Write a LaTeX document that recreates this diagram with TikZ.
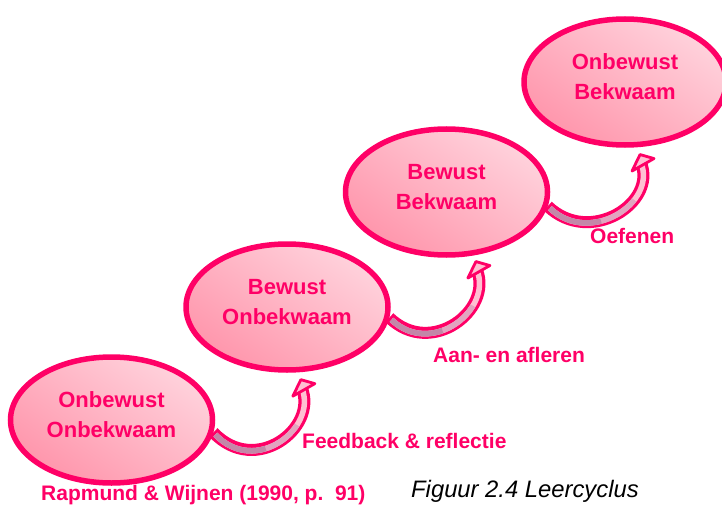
\documentclass[tikz,border=0pt]{standalone}
\usepackage{fontspec}
\setmainfont{Liberation Sans}
\usetikzlibrary{shapes.geometric, calc}
\definecolor{ink}{RGB}{255, 0, 102}
\definecolor{blushtop}{RGB}{255, 210, 220}
\definecolor{blushbot}{RGB}{255, 150, 172}
\definecolor{bandfill}{RGB}{195, 135, 168}
\definecolor{bandmid}{RGB}{225, 165, 192}
\definecolor{headfill}{RGB}{255, 192, 210}

\begin{document}
\begin{tikzpicture}[x=1pt, y=1pt,
    stage/.style  = {ellipse, draw=ink, line width=5.5pt, minimum width=202pt, minimum height=126pt,
                     inner sep=0pt, text depth=10pt, align=center,
                     top color=blushtop, bottom color=blushbot, shading angle=-35,
                     font=\fontsize{22}{30}\selectfont\bfseries\color{ink}},
    lbl/.style    = {font=\fontsize{21}{25}\selectfont\bfseries\color{ink}, anchor=base west, inner sep=0pt},
    band/.style   = {draw=ink, line width=12pt},
    bandin/.style = {draw=headfill, line width=5.5pt, shorten <=3pt},
    bandmd/.style = {draw=bandmid, line width=5.5pt, shorten <=3pt, dash pattern=on 95pt off 300pt},
    banddk/.style = {draw=bandfill, line width=5.5pt, shorten <=3pt, dash pattern=on 55pt off 300pt},
    head/.style   = {draw=ink, fill=headfill, line width=2.8pt, line join=round},
  ]
    % page
    \path[use as bounding box, fill=white] (0,0) rectangle (722,507);

    % --- stages ---
    \node[stage] (st1) at (111.5, 87) {Onbewust\\Onbekwaam};
    \node[stage] (st2) at (287, 200)  {Bewust\\Onbekwaam};
    \node[stage] (st3) at (446.5, 315) {Bewust\\Bekwaam};
    \node[stage] (st4) at (625, 425)  {Onbewust\\Bekwaam};

    % --- curved arrows ---
    % st1 -> st2
    \coordinate (h1) at ([yshift=-6pt]st2.-78);
    \draw[band]   (st1.-7) .. controls +(42pt,-44pt) and +(16pt,-40pt) .. ([shift={(1pt,-10pt)}]h1);
    \draw[bandin] (st1.-7) .. controls +(42pt,-44pt) and +(16pt,-40pt) .. ([shift={(1pt,-10pt)}]h1);
    \draw[bandmd] (st1.-7) .. controls +(42pt,-44pt) and +(16pt,-40pt) .. ([shift={(1pt,-10pt)}]h1);
    \draw[banddk] (st1.-7) .. controls +(42pt,-44pt) and +(16pt,-40pt) .. ([shift={(1pt,-10pt)}]h1);
    \draw[head] ([yshift=-1.5pt]h1) -- ([shift={(-8pt,-18pt)}]h1) -- ([shift={(14pt,-5.5pt)}]h1) -- cycle;

    % st2 -> st3
    \coordinate (h2) at ([yshift=-5pt]st3.-65);
    \draw[band]   (st2.-6) .. controls +(42pt,-40pt) and +(16pt,-40pt) .. ([shift={(1pt,-10pt)}]h2);
    \draw[bandin] (st2.-6) .. controls +(42pt,-40pt) and +(16pt,-40pt) .. ([shift={(1pt,-10pt)}]h2);
    \draw[bandmd] (st2.-6) .. controls +(42pt,-40pt) and +(16pt,-40pt) .. ([shift={(1pt,-10pt)}]h2);
    \draw[banddk] (st2.-6) .. controls +(42pt,-40pt) and +(16pt,-40pt) .. ([shift={(1pt,-10pt)}]h2);
    \draw[head] ([yshift=-1.5pt]h2) -- ([shift={(-8pt,-18pt)}]h2) -- ([shift={(14pt,-5.5pt)}]h2) -- cycle;

    % st3 -> st4
    \coordinate (h3) at ([yshift=-6pt]st4.-77);
    \draw[band]   (st3.-8) .. controls +(42pt,-40pt) and +(16pt,-40pt) .. ([shift={(1pt,-10pt)}]h3);
    \draw[bandin] (st3.-8) .. controls +(42pt,-40pt) and +(16pt,-40pt) .. ([shift={(1pt,-10pt)}]h3);
    \draw[bandmd] (st3.-8) .. controls +(42pt,-40pt) and +(16pt,-40pt) .. ([shift={(1pt,-10pt)}]h3);
    \draw[banddk] (st3.-8) .. controls +(42pt,-40pt) and +(16pt,-40pt) .. ([shift={(1pt,-10pt)}]h3);
    \draw[head] ([yshift=-1.5pt]h3) -- ([shift={(-8pt,-18pt)}]h3) -- ([shift={(14pt,-5.5pt)}]h3) -- cycle;

    % --- labels ---
    \node[lbl] (fb)  at (302, 59)  {Feedback \& reflectie};
    \node[lbl] (al)  at (433, 145) {Aan- en afleren};
    \node[lbl] (oe)  at (590, 264) {Oefenen};
    \node[lbl] (src) at (41, 7)    {Rapmund \& Wijnen (1990, p.\ \ 91)};
    \node[lbl, font=\fontsize{23.8}{27}\selectfont\itshape\color{black}] (cap) at (411, 10) {Figuur 2.4 Leercyclus};

  \end{tikzpicture}
\end{document}
